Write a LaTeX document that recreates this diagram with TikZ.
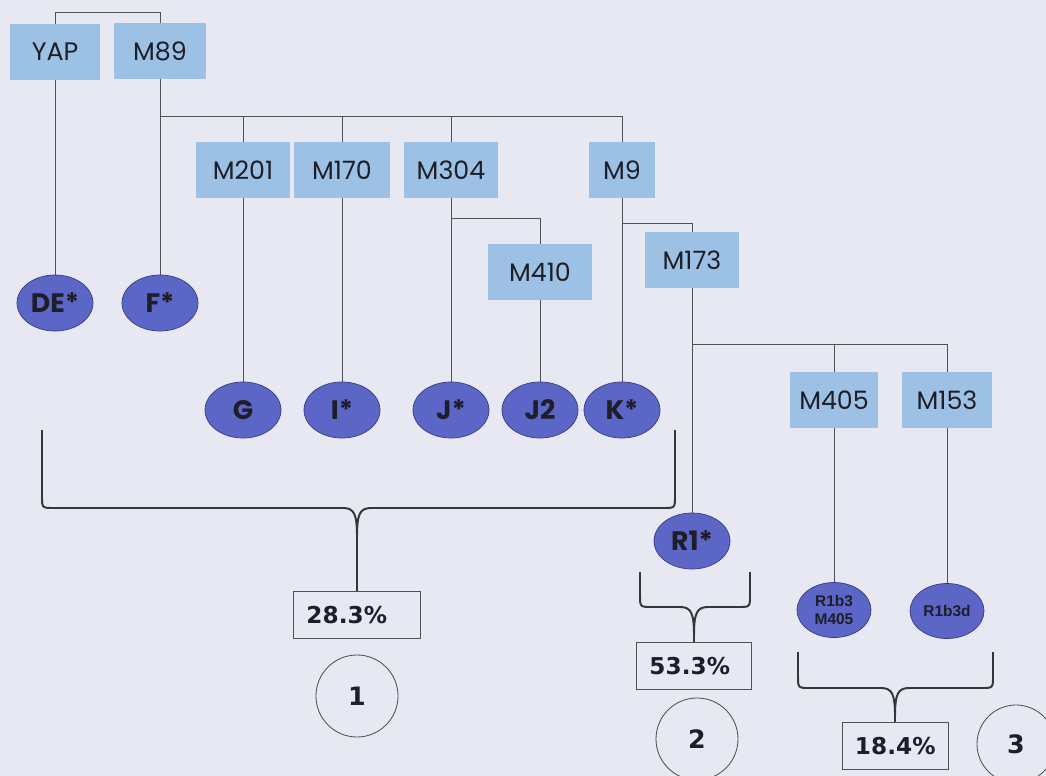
\documentclass[tikz,border=0pt]{standalone}
\usepackage{fontspec}
\usetikzlibrary{shapes.geometric, calc}
\newfontfamily\boxfont{Poppins}
\newfontfamily\pctfont{DejaVu Sans}
\newfontfamily\smallfont{Liberation Sans}
\definecolor{pagebg}{RGB}{232, 232, 243}
\definecolor{boxblue}{RGB}{157, 193, 228}
\definecolor{ovalfill}{RGB}{92, 102, 198}
\definecolor{ovaldraw}{RGB}{55, 60, 125}
\definecolor{linegray}{RGB}{80, 80, 88}
\definecolor{textdark}{RGB}{30, 30, 40}
% brace from left x to right x, top y, bottom y, tip x, ending at a node
\newcommand{\groupbrace}[6]{
    \draw[brace] (#1, #3) -- (#1, #4-12) .. controls (#1, #4) .. (#1+12, #4)
        -- (#5-14, #4) .. controls (#5-3, #4) and (#5, #4+6) .. (#5, #4+28) -- (#6.north);
    \draw[brace] (#5, #4+28) .. controls (#5, #4+6) and (#5+3, #4) .. (#5+14, #4)
        -- (#2-12, #4) .. controls (#2, #4) .. (#2, #4-12) -- (#2, #3);
}

\begin{document}
\begin{tikzpicture}[x=0.025cm, y=-0.025cm]
\tikzset{
    mbox/.style={rectangle, fill=boxblue, minimum height=1.375cm, minimum width=2.35cm, inner sep=0, text=textdark, font=\boxfont\fontsize{18}{20}\selectfont},
    oval/.style={ellipse, fill=ovalfill, draw=ovaldraw, line width=0.5pt, minimum width=1.9cm, minimum height=1.4cm, inner sep=0, text=textdark, font=\boxfont\bfseries\fontsize{19}{21}\selectfont},
    smalloval/.style={oval, minimum width=1.85cm, minimum height=1.375cm, align=center, font=\smallfont\bfseries\fontsize{11}{13}\selectfont},
    link/.style={draw=linegray, line width=0.6pt},
    brace/.style={draw=textdark!90, line width=1.4pt, line join=round},
    pctbox/.style={draw=linegray, line width=0.6pt, minimum height=1.175cm, inner ysep=0, inner xsep=0.325cm, text width=#1, align=left, text=textdark, font=\pctfont\bfseries\fontsize{16.5}{18}\selectfont},
    numcirc/.style={circle, draw=linegray, line width=0.6pt, minimum size=2.05cm, inner sep=0, text=textdark, font=\pctfont\bfseries\fontsize{18}{20}\selectfont}
}
\clip (0, 0) rectangle (1046, 776);
\fill[pagebg] (0, 0) rectangle (1046, 776);

% marker boxes
\node[mbox, minimum width=2.25cm, minimum height=1.4cm] (yap) at (55, 52) {YAP};
\node[mbox, minimum width=2.3cm] (m89) at (160, 51) {M89};
\node[mbox] (m201) at (243, 170) {M201};
\node[mbox, minimum width=2.375cm] (m170) at (342, 170) {M170};
\node[mbox, minimum width=2.325cm] (m304) at (451, 170) {M304};
\node[mbox, minimum width=1.625cm] (m9) at (622, 170) {M9};
\node[mbox, minimum width=2.575cm] (m410) at (540, 272) {M410};
\node[mbox, minimum width=2.325cm] (m173) at (692, 260) {M173};
\node[mbox, minimum width=2.2cm] (m405) at (834, 400) {M405};
\node[mbox, minimum width=2.25cm] (m153) at (947, 400) {M153};

% haplogroups
\node[oval] (de) at (55, 303) {DE*};
\node[oval] (f) at (160, 303) {F*};
\node[oval] (g) at (243, 410) {G};
\node[oval] (i) at (342, 410) {I*};
\node[oval] (j) at (451, 410) {J*};
\node[oval] (j2) at (540, 410) {J2};
\node[oval] (k) at (622, 410) {K*};
\node[oval] (r1) at (692, 541) {R1*};
\node[smalloval] (r1b3) at (834, 610) {R1b3\\M405};
\node[smalloval] (r1b3d) at (947, 611) {R1b3d};

% tree
\draw[link] (yap.north) -- ++(0, -11) -| (m89.north);
\draw[link] (yap.south) -- (de.north);
\draw[link] (m89.south) -- (f.north);
\coordinate (b1) at (160, 116);
\coordinate (b2) at (451, 218);
\coordinate (b3) at (622, 223);
\coordinate (b4) at (692, 344);
\draw[link] (b1) -| (m9.north);
\foreach \n in {m201, m170, m304}
    \draw[link] (\n.north) -- (\n.north |- b1);
\foreach \a/\b in {m201/g, m170/i, m304/j, m410/j2, m9/k, m173/r1, m405/r1b3, m153/r1b3d}
    \draw[link] (\a.south) -- (\b.north);
\draw[link] (b2) -| (m410.north);
\draw[link] (b3) -| (m173.north);
\draw[link] (b4) -| (m153.north);
\draw[link] (m405.north) -- (m405.north |- b4);

% groups
\node[pctbox=2.525cm] (p1) at (357, 615) {28.3\%};
\node[pctbox=2.225cm] (p2) at (694, 666) {53.3\%};
\node[pctbox=2.0cm] (p3) at (895, 746) {18.4\%};
\groupbrace{42}{675}{430}{508}{357}{p1}
\groupbrace{640}{750}{572}{607}{694}{p2}
\groupbrace{798}{993}{652}{688}{895}{p3}

\node[numcirc] (c1) at (357, 696) {1};
\node[numcirc] (c2) at (697, 739) {2};
\node[numcirc, minimum size=1.95cm] (c3) at (1016, 744) {3};
\end{tikzpicture}
\end{document}
